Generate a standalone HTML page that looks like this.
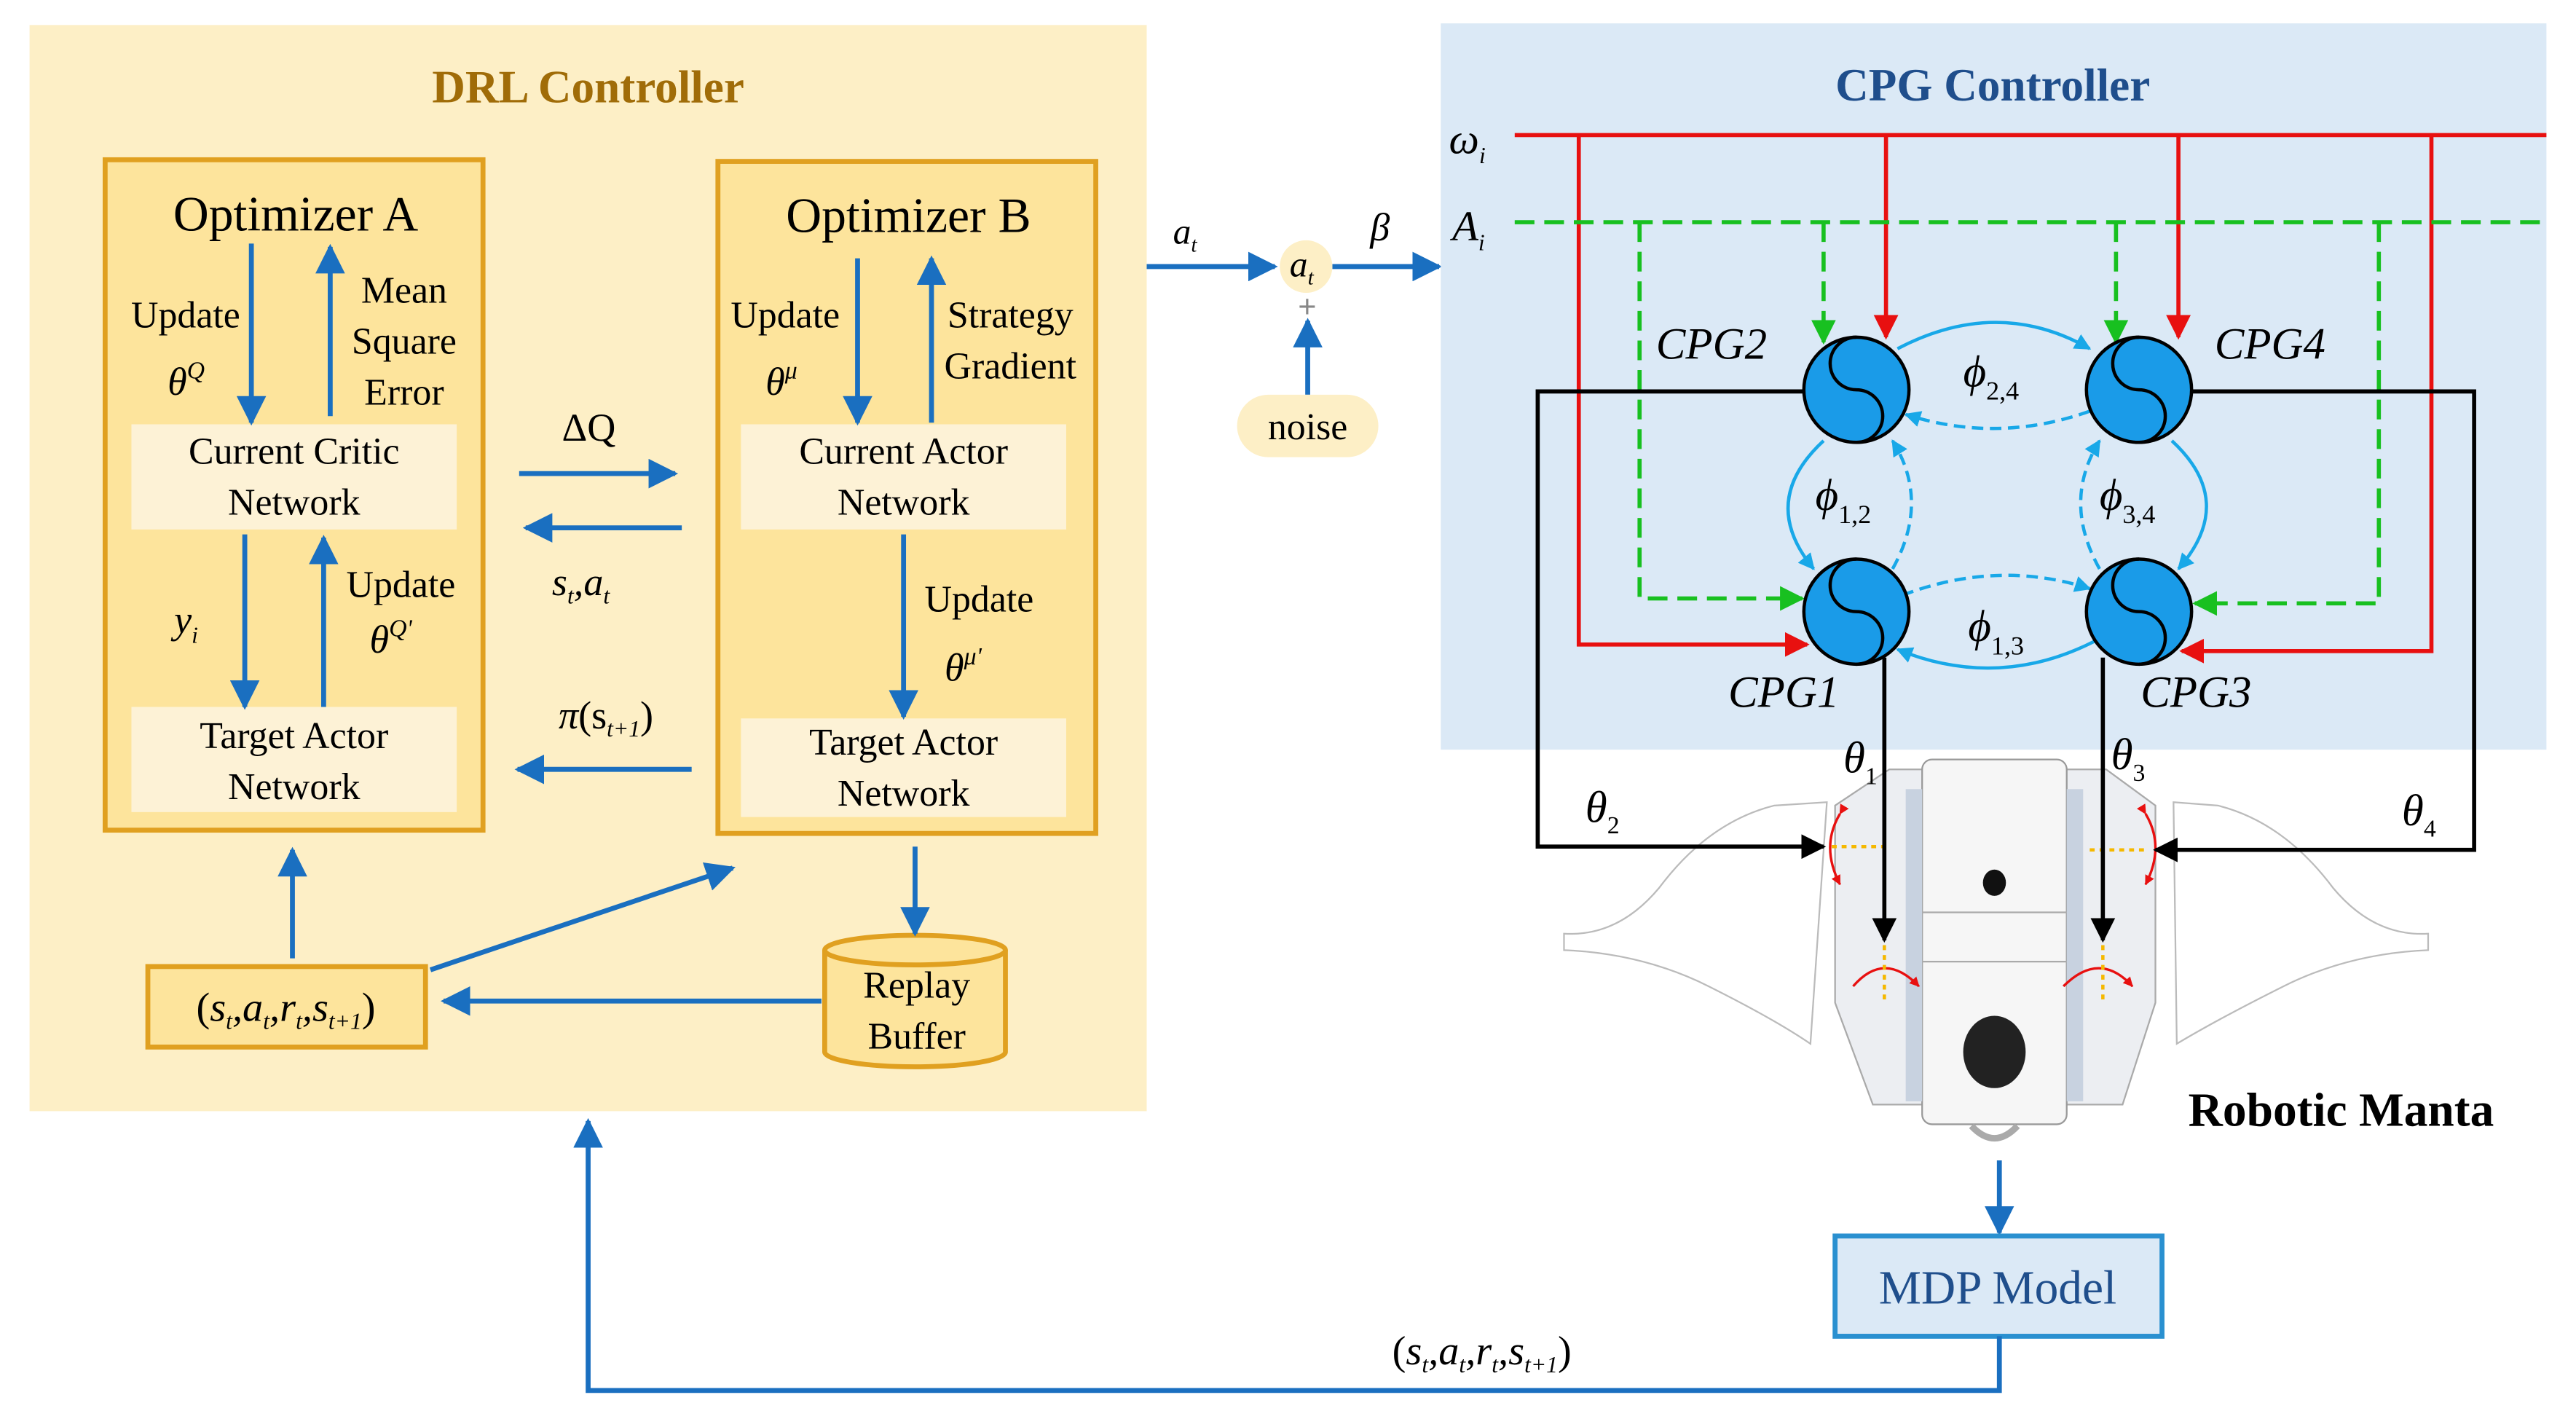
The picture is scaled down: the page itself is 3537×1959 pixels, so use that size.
<!DOCTYPE html>
<html><head><meta charset="utf-8"><style>
html,body{margin:0;padding:0;background:#fff}
svg{display:block;font-family:'Liberation Serif','Times New Roman',serif}
svg text{font-family:'Liberation Serif','Times New Roman',serif}
.it{font-style:italic}
</style></head><body>
<svg width="3537" height="1959" viewBox="0 0 1568 868" xmlns="http://www.w3.org/2000/svg" font-family="Liberation Serif, serif">
<defs>
<marker id="ab" viewBox="0 0 10 10" refX="9" refY="5" markerWidth="6" markerHeight="6" orient="auto"><path d="M0,0L10,5L0,10z" fill="#1a6fc0"/></marker>
<marker id="ak" viewBox="0 0 10 10" refX="9" refY="5" markerWidth="6" markerHeight="6" orient="auto"><path d="M0,0L10,5L0,10z" fill="#000"/></marker>
<marker id="ar" viewBox="0 0 10 10" refX="9" refY="5" markerWidth="6" markerHeight="6" orient="auto"><path d="M0,0L10,5L0,10z" fill="#e81010"/></marker>
<marker id="ag" viewBox="0 0 10 10" refX="9" refY="5" markerWidth="6" markerHeight="6" orient="auto"><path d="M0,0L10,5L0,10z" fill="#18c020"/></marker>
<marker id="ac" viewBox="0 0 10 10" refX="9" refY="5" markerWidth="5" markerHeight="5" orient="auto"><path d="M0,0L10,5L0,10z" fill="#18a8e8"/></marker>
<marker id="rr" viewBox="0 0 10 10" refX="9" refY="5" markerWidth="4" markerHeight="4" orient="auto"><path d="M0,0L10,5L0,10z" fill="#e81010"/></marker>
</defs>
<!-- DRL -->
<rect x="18" y="15" width="680" height="661" fill="#fdefc6"/>
<text x="358" y="62" font-size="28" font-weight="bold" fill="#a06c08" text-anchor="middle">DRL Controller</text>
<rect x="64" y="97" width="230" height="408" fill="#fde49c" stroke="#e0a020" stroke-width="3"/>
<rect x="437" y="98" width="230" height="409" fill="#fde49c" stroke="#e0a020" stroke-width="3"/>
<rect x="80" y="258" width="198" height="64" fill="#fdf2d6"/>
<rect x="80" y="430" width="198" height="64" fill="#fdf2d6"/>
<rect x="451" y="258" width="198" height="64" fill="#fdf2d6"/>
<rect x="451" y="437" width="198" height="60" fill="#fdf2d6"/>
<path d="M502,578 L502,640 A55,9 0 0 0 612,640 L612,578" fill="#fde49c" stroke="#e0a020" stroke-width="3"/>
<ellipse cx="557" cy="578" rx="55" ry="9" fill="#fde49c" stroke="#e0a020" stroke-width="3"/>
<g font-size="30" text-anchor="middle"><text x="180" y="140">Optimizer A</text><text x="553" y="141">Optimizer B</text></g>
<g font-size="23" text-anchor="middle">
<text x="179" y="282">Current Critic</text><text x="179" y="313">Network</text>
<text x="179" y="455">Target Actor</text><text x="179" y="486">Network</text>
<text x="550" y="282">Current Actor</text><text x="550" y="313">Network</text>
<text x="550" y="459">Target Actor</text><text x="550" y="490">Network</text>
<text x="113" y="199">Update</text><text x="246" y="184">Mean</text><text x="246" y="215">Square</text><text x="246" y="246">Error</text>
<text x="244" y="363">Update</text>
<text x="478" y="199">Update</text><text x="615" y="199">Strategy</text><text x="615" y="230">Gradient</text>
<text x="596" y="372">Update</text>
<text x="558" y="607">Replay</text><text x="558" y="638">Buffer</text>
</g>
<g font-size="24" class="it">
<text x="102" y="240">θ<tspan font-size="15" dy="-10">Q</tspan></text>
<text x="225" y="397">θ<tspan font-size="15" dy="-10">Q'</tspan></text>
<text x="106" y="385">y<tspan font-size="14" dy="6">i</tspan></text>
<text x="466" y="240">θ<tspan font-size="15" dy="-10">μ</tspan></text>
<text x="575" y="414">θ<tspan font-size="15" dy="-10">μ'</tspan></text>
<text x="342" y="268" style="font-style:normal">ΔQ</text>
<text x="336" y="362">s<tspan font-size="14" dy="5">t</tspan><tspan dy="-5">,a</tspan><tspan font-size="14" dy="5">t</tspan></text>
<text x="340" y="443">π<tspan style="font-style:normal">(s</tspan><tspan font-size="14" dy="5">t+1</tspan><tspan dy="-5" style="font-style:normal">)</tspan></text>
</g>
<g stroke="#1a6fc0" stroke-width="3" fill="none" marker-end="url(#ab)">
<line x1="153" y1="148" x2="153" y2="257"/><line x1="201" y1="253" x2="201" y2="150"/>
<line x1="149" y1="325" x2="149" y2="430"/><line x1="197" y1="430" x2="197" y2="327"/>
<line x1="522" y1="157" x2="522" y2="257"/><line x1="567" y1="257" x2="567" y2="157"/>
<line x1="550" y1="325" x2="550" y2="436"/>
<line x1="316" y1="288" x2="411" y2="288"/><line x1="415" y1="321" x2="320" y2="321"/>
<line x1="421" y1="468" x2="315" y2="468"/>
<line x1="178" y1="583" x2="178" y2="517"/>
<line x1="262" y1="590" x2="446" y2="528"/>
<line x1="557" y1="515" x2="557" y2="568"/>
<line x1="500" y1="609" x2="270" y2="609"/>
</g>
<rect x="90" y="588" width="169" height="49" fill="#fde49c" stroke="#e0a020" stroke-width="3"/>
<text x="174" y="621" font-size="25" text-anchor="middle" class="it"><tspan style="font-style:normal">(</tspan>s<tspan font-size="14" dy="5">t</tspan><tspan dy="-5">,a</tspan><tspan font-size="14" dy="5">t</tspan><tspan dy="-5">,r</tspan><tspan font-size="14" dy="5">t</tspan><tspan dy="-5">,s</tspan><tspan font-size="14" dy="5">t+1</tspan><tspan dy="-5" style="font-style:normal">)</tspan></text>
<!-- middle -->
<line x1="698" y1="162" x2="776" y2="162" stroke="#1a6fc0" stroke-width="3" marker-end="url(#ab)"/>
<line x1="811" y1="162" x2="876" y2="162" stroke="#1a6fc0" stroke-width="3" marker-end="url(#ab)"/>
<line x1="796" y1="240" x2="796" y2="195" stroke="#1a6fc0" stroke-width="3" marker-end="url(#ab)"/>
<circle cx="795" cy="162" r="16" fill="#fdefc6"/>
<text x="785" y="168" font-size="22" class="it">a<tspan font-size="13" dy="5">t</tspan></text>
<text x="790" y="193" font-size="20" fill="#888" font-weight="bold">+</text>
<text x="714" y="148" font-size="22" class="it">a<tspan font-size="13" dy="5">t</tspan></text>
<text x="834" y="146" font-size="24" class="it">β</text>
<rect x="753" y="240" width="86" height="38" rx="19" fill="#fdefc6"/>
<text x="796" y="267" font-size="23" text-anchor="middle">noise</text>
<!-- CPG -->
<rect x="877" y="14" width="673" height="442" fill="#dbe9f6"/>
<text x="1213" y="61" font-size="28" font-weight="bold" fill="#1f4e8c" text-anchor="middle">CPG Controller</text>
<text x="882" y="93" font-size="26" class="it">ω<tspan font-size="14" dy="6">i</tspan></text>
<text x="884" y="146" font-size="26" class="it">A<tspan font-size="14" dy="6">i</tspan></text>
<!-- robot (drawn first) -->
<g stroke="#bbb" stroke-width="1" fill="#fff">
<path d="M1112,488 L1080,490 Q1040,500 1010,540 Q985,570 952,568 L952,578 Q1000,580 1040,600 Q1080,620 1102,635 Z"/>
<path d="M1323,488 L1350,490 Q1390,500 1420,540 Q1445,570 1478,568 L1478,578 Q1430,580 1390,600 Q1350,620 1325,635 Z"/>
</g>
<path d="M1117,490 L1150,468 L1282,468 L1312,490 L1312,610 L1292,672 L1140,672 L1117,610 Z" fill="#eceef2" stroke="#aaa"/>
<rect x="1170" y="462" width="88" height="222" rx="6" fill="#f6f6f6" stroke="#999"/>
<rect x="1160" y="480" width="10" height="190" fill="#c8d2e0"/>
<rect x="1258" y="480" width="10" height="190" fill="#c8d2e0"/>
<line x1="1170" y1="555" x2="1258" y2="555" stroke="#aaa"/>
<line x1="1170" y1="585" x2="1258" y2="585" stroke="#aaa"/>
<ellipse cx="1214" cy="537" rx="7" ry="8" fill="#111"/>
<ellipse cx="1214" cy="640" rx="19" ry="22" fill="#222"/>
<path d="M1200,685 Q1214,700 1228,685" fill="none" stroke="#aaa" stroke-width="4"/>
<g stroke="#e81010" stroke-width="1.5" fill="none">
<path d="M1120,495 Q1108,515 1120,538" marker-start="url(#rr)" marker-end="url(#rr)"/>
<path d="M1306,495 Q1318,515 1306,538" marker-start="url(#rr)" marker-end="url(#rr)"/>
<path d="M1128,600 Q1147,578 1168,600" marker-end="url(#rr)"/>
<path d="M1256,600 Q1278,578 1298,600" marker-end="url(#rr)"/>
</g>
<g stroke="#f5b800" stroke-width="2" stroke-dasharray="3,3">
<line x1="1115" y1="515" x2="1148" y2="515"/><line x1="1272" y1="517" x2="1305" y2="517"/>
<line x1="1147" y1="575" x2="1147" y2="610"/><line x1="1280" y1="575" x2="1280" y2="610"/>
</g>
<g stroke="#e81010" stroke-width="2.5" fill="none">
<line x1="922" y1="82" x2="1550" y2="82"/>
<path d="M961,82 V392 H1100" marker-end="url(#ar)"/>
<path d="M1148,82 V205" marker-end="url(#ar)"/>
<path d="M1326,82 V205" marker-end="url(#ar)"/>
<path d="M1480,82 V396 H1328" marker-end="url(#ar)"/>
</g>
<g stroke="#18c020" stroke-width="2.5" fill="none" stroke-dasharray="12,6">
<line x1="922" y1="135" x2="1550" y2="135"/>
<path d="M998,135 V364 H1097" marker-end="url(#ag)"/>
<path d="M1110,135 V208" marker-end="url(#ag)"/>
<path d="M1288,135 V208" marker-end="url(#ag)"/>
<path d="M1448,135 V367 H1336" marker-end="url(#ag)"/>
</g>
<g stroke="#000" stroke-width="2.5" fill="none">
<path d="M1098,238 H936 V515 H1110" marker-end="url(#ak)"/>
<path d="M1334,238 H1506 V517 H1312" marker-end="url(#ak)"/>
<path d="M1147,400 V572" marker-end="url(#ak)"/>
<path d="M1280,400 V572" marker-end="url(#ak)"/>
</g>
<g stroke="#18a8e8" stroke-width="2" fill="none">
<path d="M1155,212 Q1216,180 1272,212" marker-end="url(#ac)"/>
<path d="M1272,250 Q1216,270 1160,252" stroke-dasharray="7,4" marker-end="url(#ac)"/>
<path d="M1110,268 Q1070,305 1104,346" marker-end="url(#ac)"/>
<path d="M1152,346 Q1175,305 1152,268" stroke-dasharray="7,4" marker-end="url(#ac)"/>
<path d="M1158,362 Q1216,340 1272,358" stroke-dasharray="7,4" marker-end="url(#ac)"/>
<path d="M1275,390 Q1216,420 1155,395" marker-end="url(#ac)"/>
<path d="M1278,346 Q1255,305 1278,268" stroke-dasharray="7,4" marker-end="url(#ac)"/>
<path d="M1322,268 Q1362,305 1326,346" marker-end="url(#ac)"/>
</g>
<g stroke="#000" stroke-width="2" fill="#1a9be8">
<circle cx="1130" cy="237" r="32"/><circle cx="1302" cy="237" r="32"/>
<circle cx="1130" cy="372" r="32"/><circle cx="1302" cy="372" r="32"/>
</g>
<g stroke="#000" stroke-width="2" fill="none">
<path d="M1130,205 a16,16 0 0 0 0,32 a16,16 0 0 1 0,32"/>
<path d="M1302,205 a16,16 0 0 0 0,32 a16,16 0 0 1 0,32"/>
<path d="M1130,340 a16,16 0 0 0 0,32 a16,16 0 0 1 0,32"/>
<path d="M1302,340 a16,16 0 0 0 0,32 a16,16 0 0 1 0,32"/>
</g>
<g font-size="27" class="it">
<text x="1008" y="218">CPG2</text><text x="1348" y="218">CPG4</text>
<text x="1052" y="430">CPG1</text><text x="1303" y="430">CPG3</text>
<text x="1195" y="235">ϕ<tspan font-size="16" dy="8" style="font-style:normal">2,4</tspan></text>
<text x="1105" y="310">ϕ<tspan font-size="16" dy="8" style="font-style:normal">1,2</tspan></text>
<text x="1278" y="310">ϕ<tspan font-size="16" dy="8" style="font-style:normal">3,4</tspan></text>
<text x="1198" y="390">ϕ<tspan font-size="16" dy="8" style="font-style:normal">1,3</tspan></text>
<text x="1122" y="470">θ<tspan font-size="15" dy="7" style="font-style:normal">1</tspan></text>
<text x="1285" y="468">θ<tspan font-size="15" dy="7" style="font-style:normal">3</tspan></text>
<text x="965" y="500">θ<tspan font-size="15" dy="7" style="font-style:normal">2</tspan></text>
<text x="1462" y="502">θ<tspan font-size="15" dy="7" style="font-style:normal">4</tspan></text>
</g>
<text x="1332" y="685" font-size="29" font-weight="bold">Robotic Manta</text>
<!-- MDP -->
<line x1="1217" y1="706" x2="1217" y2="750" stroke="#1a6fc0" stroke-width="3" marker-end="url(#ab)"/>
<rect x="1117" y="752" width="199" height="61" fill="#dbe9f6" stroke="#2a90d0" stroke-width="3"/>
<text x="1216" y="793" font-size="29" text-anchor="middle" fill="#1f4e8c">MDP Model</text>
<path d="M1217,813 V846 H358 V682" fill="none" stroke="#1a6fc0" stroke-width="3" marker-end="url(#ab)"/>
<text x="902" y="830" font-size="25" text-anchor="middle" class="it"><tspan style="font-style:normal">(</tspan>s<tspan font-size="14" dy="5">t</tspan><tspan dy="-5">,a</tspan><tspan font-size="14" dy="5">t</tspan><tspan dy="-5">,r</tspan><tspan font-size="14" dy="5">t</tspan><tspan dy="-5">,s</tspan><tspan font-size="14" dy="5">t+1</tspan><tspan dy="-5" style="font-style:normal">)</tspan></text>
</svg>
</body></html>
